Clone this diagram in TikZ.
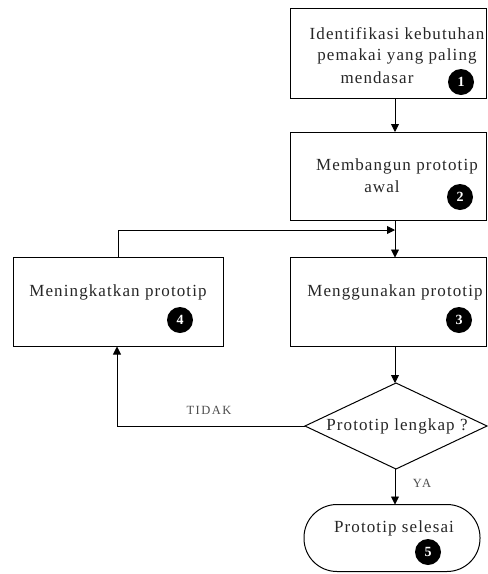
\documentclass[tikz,border=0pt]{standalone}
\usepackage{fontspec}
\setmainfont{Liberation Serif}
\newfontfamily\spacedserif[LetterSpace=6.5]{Liberation Serif}
\newfontfamily\spacedsmall[LetterSpace=12]{Liberation Serif}
\usetikzlibrary{shapes.geometric,arrows.meta}
\begin{document}
\begin{tikzpicture}[x=1pt,y=-1pt,
  every node/.style={inner sep=0pt, outer sep=0pt},
  boxnode/.style={draw, line width=1pt, rectangle},
  lbl/.style={font=\spacedserif\fontsize{17}{21}\selectfont, text=black!85, align=center},
  badge/.style={circle, fill=black, minimum size=26pt, text=white, font=\fontsize{14}{14}\selectfont\bfseries},
  conn/.style={line width=0.9pt, -{Triangle[length=8pt,width=8pt]}},
  plain/.style={line width=0.9pt},
  small/.style={font=\spacedsmall\fontsize{12.5}{12.5}\selectfont, text=black!70}]
\useasboundingbox (0,0) rectangle (488,574);
% boxes
\node[boxnode, minimum width=196pt, minimum height=90pt] (b1) at (388,53) {};
\node[boxnode, minimum width=196pt, minimum height=88pt] (b2) at (388,176) {};
\node[boxnode, minimum width=210pt, minimum height=89pt] (b4) at (118,302) {};
\node[boxnode, minimum width=196pt, minimum height=89pt] (b3) at (388,302) {};
\node[draw, line width=1pt, diamond, aspect=2.1, minimum width=182pt, minimum height=86pt] (d) at (396,426) {};
\node[draw, line width=1pt, rectangle, rounded corners=33pt, minimum width=176pt, minimum height=67pt] (t) at (392,538) {};
% texts
\node[lbl] (t1a) at (397,34) {Identifikasi kebutuhan};
\node[lbl] (t1b) at (397,56) {pemakai yang paling};
\node[lbl] (t1c) at (377,78) {mendasar};
\node[lbl] (t2a) at (397,166) {Membangun prototip};
\node[lbl] (t2b) at (382,187) {awal};
\node[lbl] (t4) at (118,292) {Meningkatkan prototip};
\node[lbl] (t3) at (395,292) {Menggunakan prototip};
\node[lbl] (td) at (397,426) {Prototip lengkap ?};
\node[lbl] (tt) at (394,528) {Prototip selesai};
% badges
\node[badge] (c1) at (461,82) {1};
\node[badge] (c2) at (460,197) {2};
\node[badge] (c4) at (180,320) {4};
\node[badge] (c3) at (459,320) {3};
\node[badge] (c5) at (428,552) {5};
% labels
\node[small] (ltidak) at (209,410) {TIDAK};
\node[small] (lya) at (422,483) {YA};
% connectors
\coordinate (fbA) at (118,230);
\coordinate (fbB) at (395,230);
\coordinate (dl) at (117,426);
\draw[conn] (b1.south -| 395,0) -- (b2.north -| 395,0);
\draw[conn] (b2.south -| 395,0) -- (b3.north -| 395,0);
\draw[plain] (b4.north -| fbA) -- (fbA);
\draw[conn] (fbA) -- (fbB);
\draw[conn] (b3.south -| 395,0) -- (d.north -| 395,0);
\draw[plain] (d.west) -- (dl);
\draw[conn] (dl) -- (b4.south -| dl);
\draw[conn] (d.south -| 395,0) -- (t.north -| 395,0);
\end{tikzpicture}
\end{document}
